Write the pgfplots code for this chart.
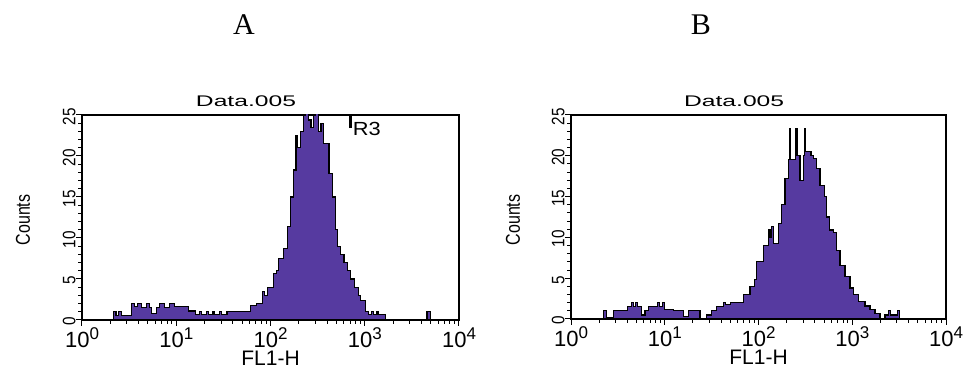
\documentclass[border=0pt]{standalone}
\usepackage{pgfplots}
\pgfplotsset{compat=1.18}
\usepackage{fontspec}
\setmainfont{Liberation Sans}
\newfontfamily\seriffont{Liberation Serif}
\definecolor{histfill}{RGB}{86,58,160}
\newcommand\tp[1]{10\raisebox{0.38em}{\fontsize{8.5}{8.5}\selectfont #1}}
\pgfplotsset{facs/.style={
  scale only axis, height=102.5pt,
  xmin=0, xmax=4, ymin=0, ymax=25,
  axis line style={line width=0.9pt},
  tick style={line width=0.5pt, black},
  tick align=outside,
  major tick length=3pt, minor tick length=1.8pt,
  xtick={0,1,2,3,4},
  xticklabels={\tp{0},\tp{1},\tp{2},\tp{3},\tp{4}},
  minor xtick={0.301,0.477,0.602,0.699,0.778,0.845,0.903,0.954,
               1.301,1.477,1.602,1.699,1.778,1.845,1.903,1.954,
               2.301,2.477,2.602,2.699,2.778,2.845,2.903,2.954,
               3.301,3.477,3.602,3.699,3.778,3.845,3.903,3.954},
  ytick={0,5,10,15,20,25},
  minor ytick={1,2,3,4,6,7,8,9,11,12,13,14,16,17,18,19,21,22,23,24},
  xtick pos=bottom, ytick pos=left,
  /pgf/number format/assume math mode=true,
  yticklabel style={rotate=90, anchor=south, inner sep=0pt, xshift=-0.8pt,
     font=\fontsize{9}{9}\selectfont},
  yticklabel={\scalebox{0.85}[1]{\pgfmathprintnumber{\tick}}},
  xticklabel style={anchor=north, inner sep=0pt, yshift=-0.5pt,
     font=\fontsize{11}{11}\selectfont},
  title={\scalebox{1.6}[1]{\fontsize{7.7}{8}\selectfont Data.005}},
  title style={at={(0.435,1)}, anchor=base, yshift=-2pt, inner sep=0pt},
  xlabel={FL1-H},
  xlabel style={font=\fontsize{10.5}{10.5}\selectfont, at={(0.5,0)}, anchor=base, yshift=-23pt, inner sep=0pt},
}}
\begin{document}
\begin{tikzpicture}
\path[use as bounding box] (0pt,0pt) rectangle (482.5pt,184pt);
\node[font=\seriffont\fontsize{15}{15}\selectfont] at (122pt,171.5pt) {A};
\node[font=\seriffont\fontsize{15}{15}\selectfont] at (350.5pt,171.5pt) {B};
\node[rotate=90, font=\fontsize{10}{10}\selectfont] at (11.5pt,74pt) {\scalebox{0.8}[1]{Counts}};
\node[rotate=90, font=\fontsize{10}{10}\selectfont] at (256.5pt,74pt) {\scalebox{0.8}[1]{Counts}};

\begin{axis}[facs, width=188.5pt, at={(41pt,24pt)}, anchor=south west]
\addplot[const plot, fill=histfill, draw=black, line width=0.6pt] coordinates {
(0,0) (0.333,1) (0.36,0.5) (0.39,1) (0.42,0.5) (0.528,2) (0.56,1.6) (0.59,2)
(0.635,1.5) (0.688,2) (0.715,1.5) (0.741,0.8) (0.794,1.5) (0.822,2) (0.875,1.5)
(0.901,1.5) (0.93,2) (0.98,1.6) (1.007,1.6) (1.078,1.6) (1.131,1.1) (1.202,0.7)
(1.25,1) (1.27,0.7) (1.32,1) (1.34,0.7) (1.39,1) (1.41,0.7) (1.46,1) (1.48,0.7)
(1.539,1) (1.79,1.8) (1.85,2) (1.915,3.5) (1.935,3) (1.97,4) (2.03,5.7) (2.06,6)
(2.085,7.5) (2.14,8.7) (2.18,11.4) (2.21,15) (2.245,18.3) (2.27,22.5) (2.285,21)
(2.32,23) (2.35,25) (2.37,26) (2.40,24.4) (2.43,23.5) (2.46,25) (2.48,26) (2.51,23)
(2.535,24) (2.56,21.5) (2.62,17.9) (2.66,15) (2.69,11) (2.71,9) (2.745,8) (2.78,7)
(2.815,6) (2.85,5) (2.89,4) (2.93,3) (2.957,2.4) (3.01,1) (3.04,0.7) (3.07,1)
(3.09,0.7) (3.13,1) (3.15,0.7) (3.22,0) (3.66,1) (3.70,0) (4,0)
} \closedcycle;
\addplot[black, line width=1.5pt] coordinates {(2.85,23.4) (2.85,25)};
\node[anchor=west, inner sep=0pt, font=\fontsize{9.5}{9.5}\selectfont] at (axis cs:2.87,23.35) {\scalebox{1.15}[1]{R3}};
\end{axis}

\begin{axis}[facs, width=187.5pt, at={(285.5pt,24.5pt)}, anchor=south west, height=102pt]
\addplot[const plot, fill=histfill, draw=black, line width=0.6pt] coordinates {
(0,0) (0.345,1) (0.38,0.2) (0.45,1) (0.60,1.5) (0.647,2) (0.665,1.5) (0.69,2)
(0.71,1.5) (0.754,0.5) (0.789,1) (0.83,1.5) (0.878,1.5) (0.92,2) (0.94,1.5)
(0.98,2) (1.00,1.2) (1.09,1) (1.198,0.3) (1.251,1) (1.376,0) (1.447,0.5) (1.50,1)
(1.554,1.5) (1.63,2) (1.65,1.8) (1.70,2) (1.838,3) (1.909,4) (1.96,4.8) (1.981,7)
(2.052,9) (2.105,11) (2.123,10) (2.14,11.3) (2.158,9.3) (2.211,11.7) (2.247,14)
(2.283,17.2) (2.318,19.5) (2.33,23.3) (2.345,19.5) (2.395,23.3) (2.41,20)
(2.443,17) (2.48,20) (2.49,23.3) (2.505,20.5) (2.56,20) (2.585,19.7) (2.621,18.4)
(2.656,16.4) (2.70,15) (2.727,12.5) (2.76,10.9) (2.798,10.6) (2.834,8.4)
(2.869,6.6) (2.923,5.2) (2.976,3.8) (3.011,3) (3.065,2.1) (3.136,1.6) (3.189,1.2)
(3.243,0.7) (3.296,0) (3.349,0.5) (3.39,1) (3.41,0.5) (3.48,1) (3.50,0) (4,0)
} \closedcycle;
\end{axis}
\end{tikzpicture}
\end{document}
